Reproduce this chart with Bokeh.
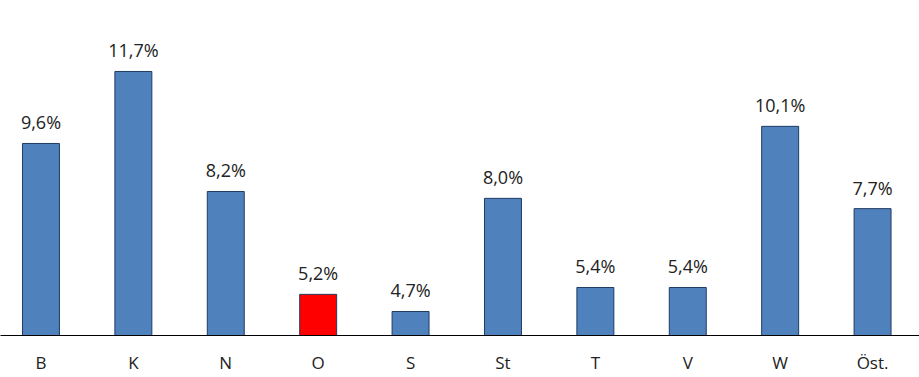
from bokeh.plotting import figure
from bokeh.models import ColumnDataSource, Range1d, FixedTicker, LabelSet
from bokeh.core.properties import value
from bokeh.embed import file_html
from bokeh.resources import INLINE

categories = ["B", "K", "N", "O", "S", "St", "T", "V", "W", "Öst."]
values = [9.6, 11.7, 8.2, 5.2, 4.7, 8.0, 5.4, 5.4, 10.1, 7.7]
highlight = "O"

xs = list(range(len(categories)))
colors = ["#FF0000" if c == highlight else "#4F81BD" for c in categories]
labels = [f"{v:.1f}".replace(".", ",") + "%" for v in values]
base = 4.0

src = ColumnDataSource(dict(x=xs, top=values, color=colors, label=labels))

p = figure(width=919, height=377, output_backend="svg", toolbar_location=None,
           x_range=Range1d(-0.438, 9.508), y_range=Range1d(base, 13.77),
           min_border_left=0, min_border_right=0, min_border_top=0, min_border_bottom=42)
p.vbar(x="x", top="top", bottom=base, width=0.4, fill_color="color",
       line_color="#1F3B63", line_width=1, source=src)

lbl = LabelSet(x="x", y="top", text="label", source=src, text_align="center",
               text_baseline="alphabetic", y_offset=14, text_font=value("Open Sans"),
               text_font_size=value("18px"), text_color=value("#222222"))
p.add_layout(lbl)

p.yaxis.visible = False
p.xgrid.visible = False
p.ygrid.visible = False
p.outline_line_color = None
p.xaxis.ticker = FixedTicker(ticks=xs)
p.xaxis.major_label_overrides = {i: c for i, c in zip(xs, categories)}
p.xaxis.major_tick_line_color = None
p.xaxis.minor_tick_line_color = None
p.xaxis.axis_line_color = "#000000"
p.xaxis.axis_line_width = 1
p.xaxis.major_label_standoff = 9
p.xaxis.major_label_text_font = "Open Sans"
p.xaxis.major_label_text_font_size = "17px"
p.xaxis.major_label_text_color = "#222222"

open("out.html", "w").write(file_html(p, INLINE))
